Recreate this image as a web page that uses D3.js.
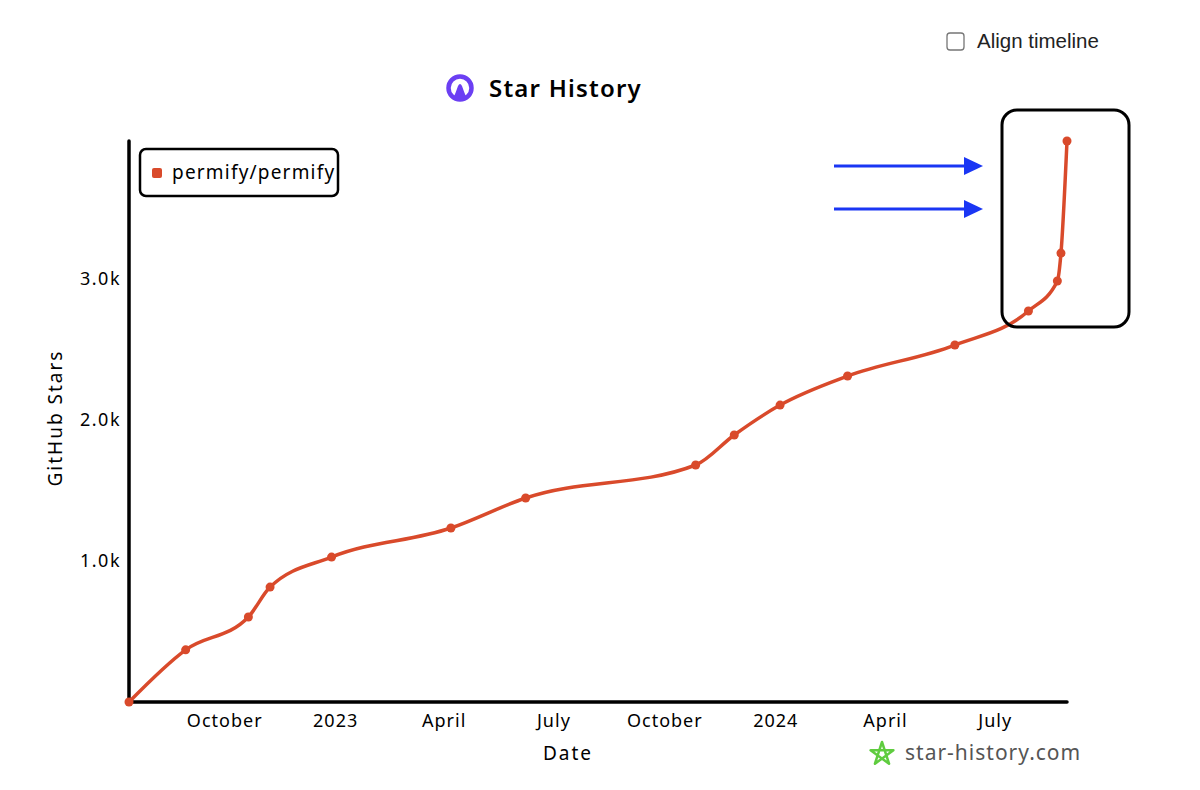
<!DOCTYPE html>
<html>
<head>
<meta charset="utf-8">
<script src="https://d3js.org/d3.v7.min.js"></script>
<style>
  body { margin: 0; background: #fff; }
  svg text { font-family: "Noto Sans", "DejaVu Sans", sans-serif; }
</style>
</head>
<body>
<svg width="1200" height="790"></svg>
<script>
// star history of permify/permify
const dates = ["2022-07-14", "2022-08-30", "2022-10-21", "2022-11-08", "2022-12-29",
  "2023-04-07", "2023-06-08", "2023-10-27", "2023-11-28", "2024-01-05",
  "2024-03-01", "2024-05-29", "2024-07-29", "2024-08-22", "2024-08-25", "2024-08-30"]
const stars = [0, 370, 603, 815, 1028, 1234, 1447, 1681, 1894, 2106, 2312, 2532, 2773, 2986, 3184, 3979]
const xTicks = ["2022-10-01", "2023-01-01", "2023-04-01", "2023-07-01", "2023-10-01",
  "2024-01-01", "2024-04-01", "2024-07-01"]
const yTicks = [1000, 2000, 3000]
const seriesName = "permify/permify"

const parse = d3.timeParse("%Y-%m-%d")
const data = dates.map((d, i) => ({ date: parse(d), stars: stars[i] }))
const red = "#d94a2b"

const svg = d3.select("svg")

const x = d3.scaleTime()
  .domain(d3.extent(data, d => d.date))
  .range([129, 1067])
const y = d3.scaleLinear()
  .domain([0, d3.max(stars)])
  .range([702, 141])

// axes
const fmt = d => d.getMonth() === 0 ? d3.timeFormat("%Y")(d) : d3.timeFormat("%B")(d)
const xAxis = svg.append("g")
  .attr("transform", "translate(0,702)")
  .call(d3.axisBottom(x).tickValues(xTicks.map(parse)).tickFormat(fmt).tickSize(0).tickPadding(12))
xAxis.select(".domain").attr("d", `M${x.range()[0]},0H${x.range()[1]}`)
  .attr("stroke", "#000").attr("stroke-width", 3.5).attr("stroke-linecap", "round")
xAxis.selectAll("text").attr("font-size", 18).attr("fill", "#000").attr("letter-spacing", 1)

const yAxis = svg.append("g")
  .attr("transform", "translate(129,0)")
  .call(d3.axisLeft(y).tickValues(yTicks).tickFormat(d => (d / 1000).toFixed(1) + "k").tickSize(0).tickPadding(8))
yAxis.select(".domain").attr("d", `M0,702V141`)
  .attr("stroke", "#000").attr("stroke-width", 3.5).attr("stroke-linecap", "round")
yAxis.selectAll("text").attr("font-size", 18).attr("fill", "#000").attr("letter-spacing", 1.5)

// axis titles
svg.append("text").attr("x", 568).attr("y", 760).attr("text-anchor", "middle")
  .attr("font-size", 19).attr("letter-spacing", 2).text("Date")
svg.append("text").attr("transform", "translate(62,418) rotate(-90)").attr("text-anchor", "middle")
  .attr("font-size", 19).attr("letter-spacing", 2).text("GitHub Stars")

// line and dots
const line = d3.line().x(d => x(d.date)).y(d => y(d.stars)).curve(d3.curveMonotoneX)
svg.append("path").datum(data)
  .attr("d", line)
  .attr("fill", "none")
  .attr("stroke", red)
  .attr("stroke-width", 3.5)
  .attr("stroke-linecap", "round")
  .attr("stroke-linejoin", "round")
svg.append("g").selectAll("circle").data(data).join("circle")
  .attr("cx", d => x(d.date))
  .attr("cy", d => y(d.stars))
  .attr("r", 4.5)
  .attr("fill", red)

// legend
const lg = svg.append("g").attr("transform", "translate(140,149)")
lg.append("rect").attr("width", 198).attr("height", 47).attr("rx", 6)
  .attr("fill", "#fff").attr("stroke", "#000").attr("stroke-width", 2.5)
lg.append("rect").attr("x", 12).attr("y", 19).attr("width", 10).attr("height", 10).attr("rx", 2).attr("fill", red)
lg.append("text").attr("x", 32).attr("y", 30).attr("font-size", 19).attr("letter-spacing", 1.2).text(seriesName)

// title
const tg = svg.append("g")
tg.append("circle").attr("cx", 460).attr("cy", 88).attr("r", 11.5)
  .attr("fill", "none").attr("stroke", "#6b3ff3").attr("stroke-width", 4.5)
tg.append("path").attr("d", "M453,99 Q456,92 458,86 Q460,82 462,86 Q464,92 467,99 Z").attr("fill", "#6b3ff3")
tg.append("text").attr("x", 489).attr("y", 97).attr("font-size", 24).attr("font-weight", 600)
  .attr("letter-spacing", 1.2).text("Star History")

// align timeline checkbox
svg.append("rect").attr("x", 947).attr("y", 33).attr("width", 17).attr("height", 17).attr("rx", 3)
  .attr("fill", "#fff").attr("stroke", "#767676").attr("stroke-width", 1.3)
svg.append("text").attr("x", 977).attr("y", 48).attr("font-size", 20.5).attr("fill", "#222")
  .style("font-family", "'Liberation Sans', Arial, sans-serif").text("Align timeline")

// highlight box and arrows
svg.append("rect").attr("x", 1002).attr("y", 110).attr("width", 127).attr("height", 217).attr("rx", 15)
  .attr("fill", "none").attr("stroke", "#000").attr("stroke-width", 3)
const blue = "#1a36f4"
;[166, 209].forEach(ay => {
  svg.append("line").attr("x1", 834).attr("x2", 966).attr("y1", ay).attr("y2", ay)
    .attr("stroke", blue).attr("stroke-width", 3)
  svg.append("path").attr("d", `M964,${ay - 9}L983,${ay}L964,${ay + 9}Z`).attr("fill", blue)
})

// footer
const star = d3.range(5).map(i => {
  const a = -Math.PI / 2 + i * 4 * Math.PI / 5
  return [882 + 12 * Math.cos(a), 754 + 12 * Math.sin(a)]
})
svg.append("path").attr("d", "M" + star.join("L") + "Z")
  .attr("fill", "none").attr("stroke", "#5fcc3f").attr("stroke-width", 2.5).attr("stroke-linejoin", "round")
svg.append("text").attr("x", 905).attr("y", 760).attr("font-size", 21).attr("letter-spacing", 1)
  .attr("fill", "#555").text("star-history.com")
</script>
</body>
</html>
